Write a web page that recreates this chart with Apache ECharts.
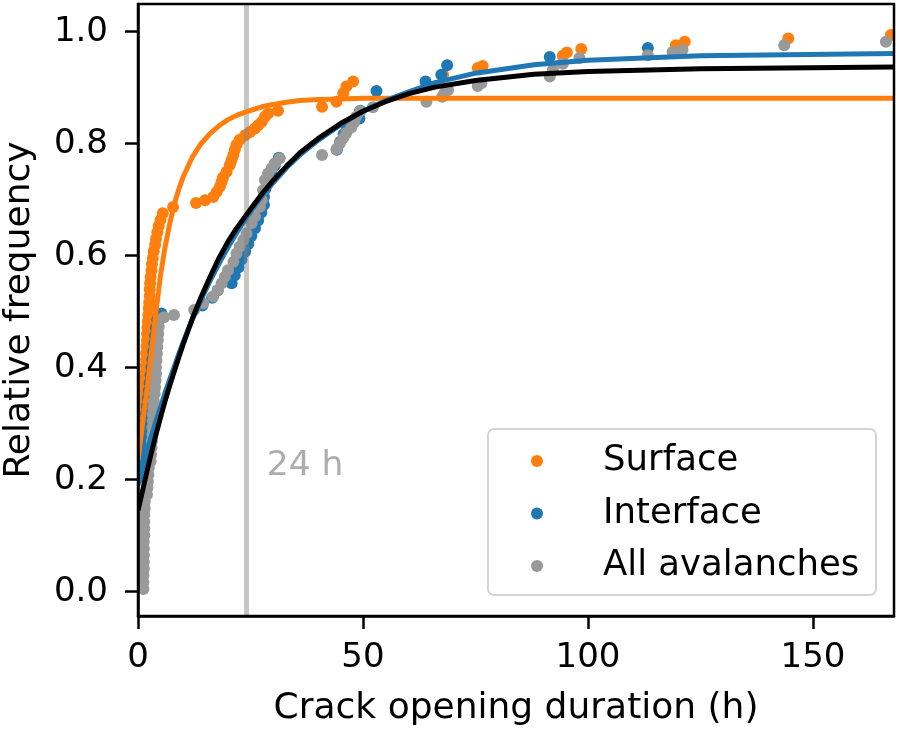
<!DOCTYPE html>
<html>
<head>
<meta charset="utf-8">
<script src="https://cdn.jsdelivr.net/npm/echarts@6/dist/echarts.min.js"></script>
<style>
  html, body { margin: 0; padding: 0; background: #fff; }
  #chart { width: 900px; height: 734px; }
</style>
</head>
<body>
<div id="chart"></div>
<script>
const surfaceDur = [0.9, 0.9, 1.0, 1.0, 1.1, 1.1, 1.2, 1.2, 1.3, 1.3, 1.4, 1.5, 1.5, 1.6, 1.7, 1.8, 1.8, 1.9, 2.0, 2.0,
  2.1, 2.2, 2.3, 2.4, 2.5, 2.6, 2.6, 2.7, 2.8, 3.0, 3.1, 3.3, 3.5, 3.8, 4.0, 4.3, 4.6, 5.0, 5.5, 7.8,
  12.9, 14.9, 16.7, 17.5, 18.2, 18.6, 18.9, 19.7, 20.4, 20.8, 21.2, 21.5, 21.9, 22.6, 23.8, 24.9, 26.0, 26.7, 27.5, 28.2, 28.9, 31.1,
  40.9, 44.1, 45.6, 46.3, 47.8, 67.8, 75.5, 76.6, 94.4, 95.3, 98.5, 119.5, 121.5, 144.5, 167.3];
const surfaceFreq = [0.245, 0.256, 0.268, 0.279, 0.290, 0.302, 0.313, 0.324, 0.336, 0.347, 0.358, 0.370, 0.381, 0.392, 0.404, 0.415, 0.426, 0.438, 0.449, 0.460,
  0.472, 0.483, 0.494, 0.506, 0.517, 0.528, 0.540, 0.551, 0.562, 0.574, 0.585, 0.596, 0.608, 0.619, 0.630, 0.642, 0.653, 0.664, 0.676, 0.687,
  0.694, 0.699, 0.705, 0.714, 0.723, 0.732, 0.740, 0.750, 0.762, 0.771, 0.780, 0.789, 0.798, 0.807, 0.815, 0.821, 0.827, 0.833, 0.839, 0.848, 0.854, 0.859,
  0.866, 0.875, 0.890, 0.902, 0.911, 0.923, 0.935, 0.939, 0.957, 0.963, 0.969, 0.976, 0.982, 0.988, 0.994];

const interfaceDur = [1.2, 1.3, 1.4, 1.4, 1.5, 1.5, 1.6, 1.7, 1.8, 2.0, 2.2, 2.4, 2.6, 2.8, 3.0, 3.2, 3.4, 3.6, 3.8, 4.0, 4.3, 5.2,
  14.3, 16.5, 17.7, 20.8, 21.5, 22.3, 23.0, 23.8, 24.5, 25.2, 26.0, 26.7, 27.4, 28.0, 28.0, 28.3, 28.9, 29.7, 30.4, 31.3,
  44.2, 44.9, 45.7, 46.4, 49.2, 49.4, 53.0, 63.9, 67.4, 68.7, 91.5, 113.3];
const interfaceFreq = [0.205, 0.219, 0.233, 0.247, 0.261, 0.275, 0.289, 0.303, 0.317, 0.331, 0.345, 0.359, 0.373, 0.387, 0.401, 0.415, 0.429, 0.443, 0.457, 0.471, 0.485, 0.497,
  0.511, 0.525, 0.538, 0.551, 0.565, 0.579, 0.593, 0.607, 0.621, 0.635, 0.649, 0.663, 0.677, 0.691, 0.705, 0.719, 0.733, 0.747, 0.761, 0.775,
  0.789, 0.803, 0.817, 0.831, 0.845, 0.859, 0.894, 0.911, 0.923, 0.940, 0.955, 0.971];

const allDur = [1.2, 1.2, 1.2, 1.3, 1.3, 1.3, 1.3, 1.3, 1.4, 1.4, 1.4, 1.4, 1.5, 1.5,
  2.0, 2.1, 2.2, 2.3, 2.4,
  2.8, 2.9, 3.0, 3.1, 3.2, 3.2, 3.3, 3.3, 3.4, 3.5,
  3.7, 3.8, 3.9, 4.0, 4.0, 4.1, 4.2, 4.3, 4.4, 4.5, 4.6, 4.8,
  5.8, 8.0, 12.5,
  14.5, 16.7, 17.8, 18.6, 19.3, 20.0, 21.2, 21.9, 22.6, 23.4, 24.1, 25.2, 26.0, 27.1, 27.5, 27.8, 28.2, 28.9, 29.7, 30.4, 31.5,
  40.9, 44.1, 44.8, 45.6, 46.3, 47.4, 48.0, 48.5, 49.3, 52.2, 64.1, 67.6, 68.1, 68.9, 75.5, 76.3, 91.5, 92.2, 94.4, 98.1,
  113.3, 118.8, 121.0, 143.6, 166.2];
const allFreq = [0.005, 0.017, 0.029, 0.041, 0.053, 0.065, 0.077, 0.089, 0.101, 0.113, 0.125, 0.137, 0.149, 0.161,
  0.173, 0.185, 0.197, 0.209, 0.221,
  0.233, 0.245, 0.257, 0.269, 0.281, 0.293, 0.305, 0.317, 0.329, 0.341,
  0.353, 0.365, 0.377, 0.389, 0.401, 0.413, 0.425, 0.437, 0.449, 0.461, 0.473, 0.485,
  0.490, 0.494, 0.503,
  0.515, 0.527, 0.539, 0.551, 0.5625, 0.574, 0.589, 0.604, 0.616, 0.628, 0.640, 0.658, 0.670, 0.6875, 0.6995, 0.717, 0.735, 0.747, 0.756, 0.765, 0.774,
  0.780, 0.790, 0.800, 0.810, 0.819, 0.829, 0.838, 0.848, 0.858, 0.865, 0.875, 0.884, 0.890, 0.896, 0.903, 0.908, 0.920, 0.932, 0.943, 0.953,
  0.958, 0.964, 0.968, 0.976, 0.982];

// fitted curves
const fitDur = [0, 1, 2, 3, 4, 5, 6, 7, 8, 9, 10, 12, 14, 16, 18, 20, 22, 24, 26, 28, 30, 33, 36, 40, 45, 50, 55, 60, 66, 75, 88, 100, 125, 168];
const surfaceFit = [0.235, 0.30, 0.36, 0.43, 0.50, 0.565, 0.615, 0.655, 0.69, 0.717, 0.74, 0.775, 0.80, 0.818, 0.832, 0.843, 0.851, 0.857, 0.862, 0.867, 0.870, 0.874, 0.877, 0.879, 0.880, 0.881, 0.881, 0.881, 0.881, 0.881, 0.881, 0.881, 0.881, 0.881];
const interfaceFit = [0.19, 0.22, 0.25, 0.278, 0.305, 0.33, 0.355, 0.378, 0.40, 0.423, 0.445, 0.485, 0.521, 0.555, 0.586, 0.615, 0.642, 0.667, 0.69, 0.711, 0.73, 0.757, 0.78, 0.806, 0.834, 0.858, 0.877, 0.892, 0.909, 0.926, 0.941, 0.949, 0.957, 0.961];
const allFit = [0.145, 0.18, 0.215, 0.249, 0.281, 0.311, 0.34, 0.367, 0.392, 0.417, 0.441, 0.486, 0.526, 0.562, 0.596, 0.625, 0.65, 0.672, 0.694, 0.715, 0.734, 0.76, 0.784, 0.809, 0.836, 0.858, 0.875, 0.889, 0.901, 0.913, 0.924, 0.929, 0.934, 0.937];

const xTicks = [0, 50, 100, 150];
const yTicks = [0, 0.2, 0.4, 0.6, 0.8, 1.0];
const legendNames = ['Surface', 'Interface', 'All avalanches'];
const markerHour = 24;
const markerText = '24 h';
const markerTextPos = [28.5, 0.224];

const FONT = 'DejaVu Sans';
const GRID = { left: 138, top: 4, width: 756, height: 612 };
const W = 900, H = 734;

function zip(xs, ys) {
    return xs.map((x, i) => [x, ys[i]]);
}

function scatter(name, xs, ys, color) {
    return {
        name: name,
        type: 'scatter',
        data: zip(xs, ys),
        symbolSize: 12,
        itemStyle: { color: color, opacity: 1 },
        z: 2
    };
}

function fitLine(name, ys, color) {
    return {
        name: name,
        type: 'line',
        data: zip(fitDur, ys),
        showSymbol: false,
        symbol: 'none',
        smooth: false,
        lineStyle: { color: color, width: 5, join: 'round' },
        z: 4
    };
}

const chart = echarts.init(document.getElementById('chart'));

const axisCommon = {
    type: 'value',
    z: 8,
    splitLine: { show: false },
    axisLine: { show: true, onZero: false, lineStyle: { color: '#000', width: 2.5 } },
    axisTick: { show: true, length: 13, lineStyle: { color: '#000', width: 2.5 } },
    nameLocation: 'middle',
    nameTextStyle: { fontFamily: FONT, fontSize: 36, color: '#000' }
};

// white masks outside the plot area so edge dots get clipped like in matplotlib
const gx2 = GRID.left + GRID.width, gy2 = GRID.top + GRID.height;
const masks = [
    [0, 0, GRID.left, H],
    [gx2, 0, W - gx2, H],
    [0, 0, W, GRID.top],
    [0, gy2, W, H - gy2]
].map(r => ({
    type: 'rect',
    shape: { x: r[0], y: r[1], width: r[2], height: r[3] },
    style: { fill: '#fff' },
    silent: true,
    z: 6
}));

chart.setOption({
    animation: false,
    backgroundColor: '#fff',
    grid: {
        left: GRID.left, top: GRID.top, width: GRID.width, height: GRID.height,
        containLabel: false,
        outerBoundsMode: 'none'
    },
    xAxis: Object.assign({}, axisCommon, {
        min: 0,
        max: 168,
        name: 'Crack opening duration (h)',
        nameGap: 75,
        axisTick: Object.assign({}, axisCommon.axisTick, { customValues: xTicks }),
        axisLabel: {
            customValues: xTicks,
            margin: 25,
            fontFamily: FONT, fontSize: 34, color: '#000'
        }
    }),
    yAxis: Object.assign({}, axisCommon, {
        min: -0.0434,
        max: 1.0495,
        name: 'Relative frequency',
        nameGap: 100,
        axisTick: Object.assign({}, axisCommon.axisTick, { customValues: yTicks }),
        axisLabel: {
            customValues: yTicks,
            margin: 30,
            formatter: v => v.toFixed(1),
            fontFamily: FONT, fontSize: 34, color: '#000'
        }
    }),
    legend: {
        data: legendNames,
        orient: 'vertical',
        left: 531,
        top: 443,
        padding: 0,
        itemGap: 16.5,
        itemWidth: 12,
        itemHeight: 12,
        icon: 'circle',
        selectedMode: false,
        z: 9,
        textStyle: { fontFamily: FONT, fontSize: 35.5, color: '#000', padding: [0, 0, 0, 55] }
    },
    graphic: masks.concat([
        {
            type: 'rect',
            shape: { x: GRID.left, y: GRID.top, width: GRID.width, height: GRID.height },
            style: { fill: 'none', stroke: '#000', lineWidth: 2.5 },
            silent: true,
            z: 7
        },
        {
            type: 'rect',
            shape: { x: 488, y: 429, width: 388, height: 166, r: 6 },
            style: { fill: 'rgba(255,255,255,0.8)', stroke: '#d4d4d4', lineWidth: 2 },
            silent: true,
            z: 8
        }
    ]),
    series: [
        scatter(legendNames[0], surfaceDur, surfaceFreq, '#ff7f0e'),
        scatter(legendNames[1], interfaceDur, interfaceFreq, '#1f77b4'),
        scatter(legendNames[2], allDur, allFreq, '#999999'),
        {
            name: 'marker',
            type: 'scatter',
            data: [markerTextPos],
            symbolSize: 1,
            itemStyle: { color: 'transparent' },
            silent: true,
            z: 3,
            label: {
                show: true,
                position: 'right',
                distance: 0,
                formatter: markerText,
                fontFamily: FONT,
                fontSize: 34.5,
                color: '#999999'
            },
            markLine: {
                silent: true,
                z: 3,
                symbol: ['none', 'none'],
                label: { show: false },
                lineStyle: { color: 'rgba(128,128,128,0.45)', width: 5, type: 'solid' },
                data: [{ xAxis: markerHour }]
            }
        },
        fitLine('surfaceFit', surfaceFit, '#ff7f0e'),
        fitLine('interfaceFit', interfaceFit, '#1f77b4'),
        fitLine('allFit', allFit, '#000000')
    ]
});
</script>
</body>
</html>
